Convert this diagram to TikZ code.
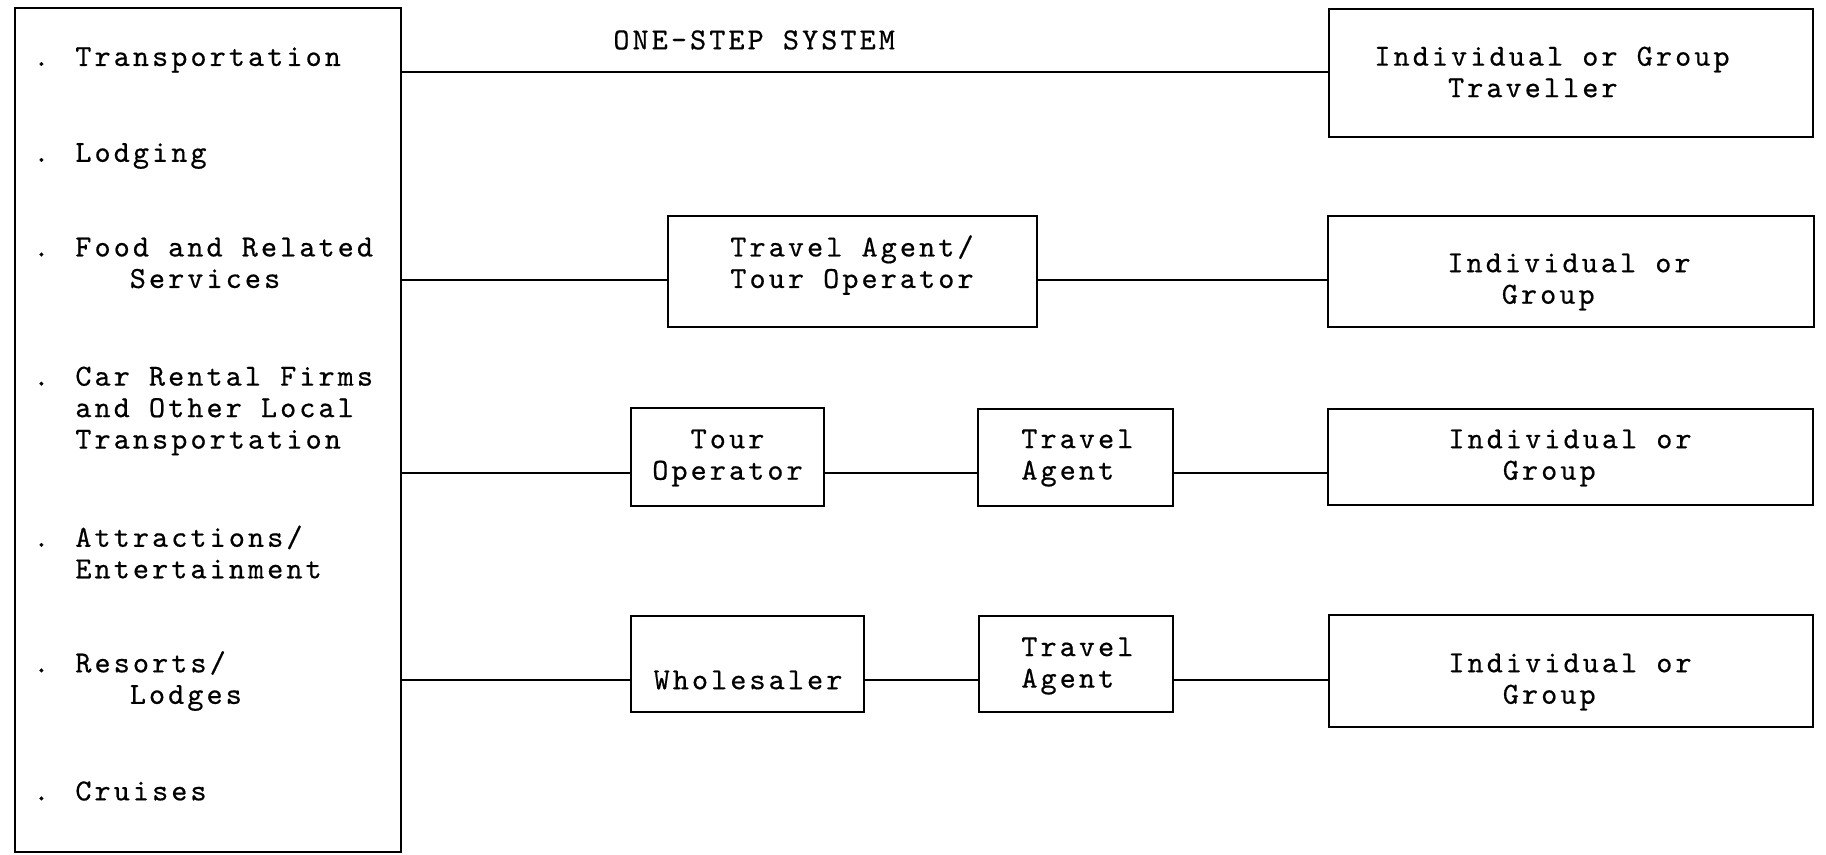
\documentclass[tikz,border=0pt]{standalone}
\usepackage{fontspec}
\setmonofont[LetterSpace=10.2,FakeBold=0.5]{lmmono10-regular.otf}
\usetikzlibrary{positioning,fit}

\newcommand\dotitem{\makebox[21pt][l]{.}}
\newcommand\itemind{\hspace*{21pt}}

\tikzset{
  box/.style={draw, line width=1pt, inner sep=0pt},
  txt/.style={font=\fontsize{15.3}{15.75}\selectfont\ttfamily, inner sep=0pt, align=left},
  link/.style={line width=0.8pt},
}

\begin{document}
\begin{tikzpicture}[x=0.5pt,y=-0.5pt]
  \useasboundingbox (0,0) rectangle (1826,855);
  % levels of the connecting lines
  \coordinate (r1) at (0,72);
  \coordinate (r2) at (0,280);
  \coordinate (r3) at (0,473);
  \coordinate (r4) at (0,680);

  % suppliers
  \node[box, fit={(15,8) (401,852)}] (supp) {};
  \node[txt, anchor=west] (s1) at (33,60) {\dotitem Transportation};
  \node[txt, anchor=west] (s2) at (33,156) {\dotitem Lodging};
  \node[txt, anchor=west] (s3) at (33,263) {\dotitem Food and Related\\\itemind\phantom{Foo}Services};
  \node[txt, anchor=west] (s4) at (33,411) {\dotitem Car Rental Firms\\\itemind and Other Local\\\itemind Transportation};
  \node[txt, anchor=west] (s5) at (33,552) {\dotitem Attractions/\\\itemind Entertainment};
  \node[txt, anchor=west] (s6) at (33,681) {\dotitem Resorts/\\\itemind\phantom{Res}Lodges};
  \node[txt, anchor=west] (s7) at (33,791) {\dotitem Cruises};

  \node[txt, anchor=west] (title) at (613,40) {ONE-STEP SYSTEM};

  % row 1
  \node[box, fit={(1329,9) (1813,137)}] (trav1) {};
  \node[txt, anchor=west] (trav1t) at (1374,72) {Individual or Group\\\phantom{Indi}Traveller};

  % row 2
  \node[box, fit={(668,216) (1037,327)}] (ta2) {};
  \node[txt, anchor=west] (ta2t) at (730,265) {Travel Agent/\\Tour Operator};
  \node[box, fit={(1328,216) (1814,327)}] (grp2) {};
  \node[txt, anchor=west] (grp2t) at (1447,282) {Individual or\\\phantom{Ind}Group};

  % row 3
  \node[box, fit={(631,408) (824,506)}] (tourop) {};
  \node[txt, align=center] (touropt) at (727.5,458) {Tour\\Operator};
  \node[box, fit={(978,409) (1173,506)}] (ta3) {};
  \node[txt, anchor=west] (ta3t) at (1021,458) {Travel\\Agent};
  \node[box, fit={(1328,409) (1813,505)}] (grp3) {};
  \node[txt, anchor=west] (grp3t) at (1448,458) {Individual or\\\phantom{Ind}Group};

  % row 4
  \node[box, fit={(631,616) (864,712)}] (whole) {};
  \node[txt] (wholet) at (748,680) {Wholesaler};
  \node[box, fit={(979,616) (1173,712)}] (ta4) {};
  \node[txt, anchor=west] (ta4t) at (1021,666) {Travel\\Agent};
  \node[box, fit={(1329,615) (1813,727)}] (grp4) {};
  \node[txt, anchor=west] (grp4t) at (1448,682) {Individual or\\\phantom{Ind}Group};

  \foreach \a/\b/\r in {supp/trav1/r1, supp/ta2/r2, ta2/grp2/r2,
      supp/tourop/r3, tourop/ta3/r3, ta3/grp3/r3,
      supp/whole/r4, whole/ta4/r4, ta4/grp4/r4}
    \draw[link] (\a.east |- \r) -- (\b.west |- \r);
\end{tikzpicture}
\end{document}
